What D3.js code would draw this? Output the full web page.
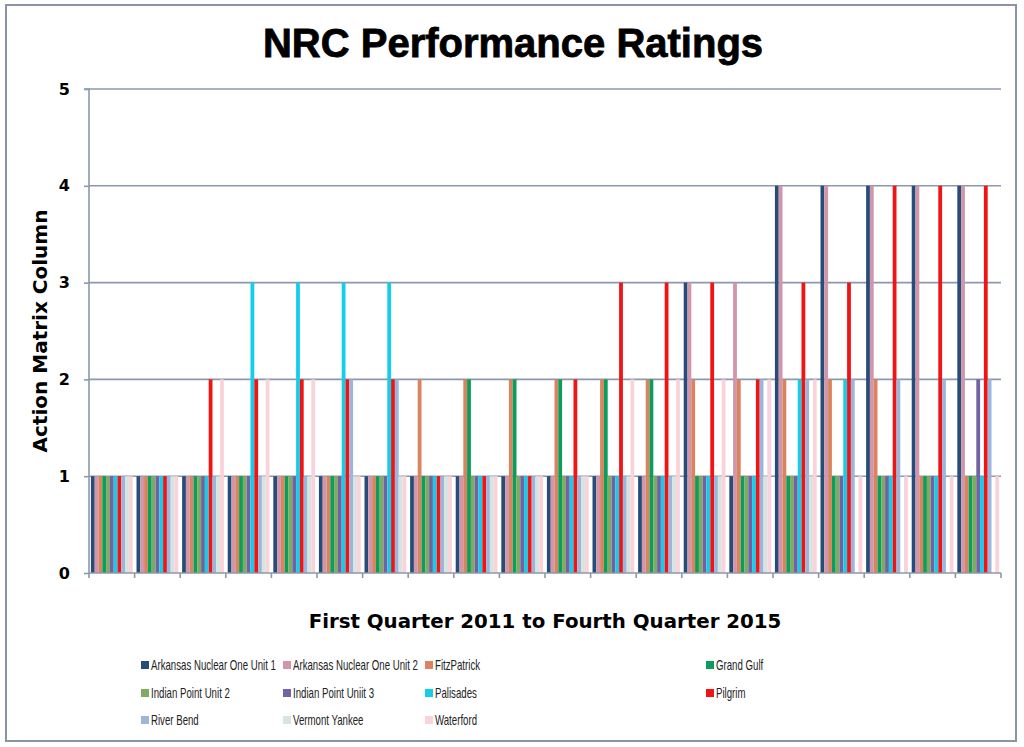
<!DOCTYPE html>
<html><head><meta charset="utf-8">
<script src="https://cdn.jsdelivr.net/npm/d3@7"></script>
<style>body{margin:0;background:#fff}</style>
</head><body>
<svg id="c" width="1024" height="747"></svg>
<script>
const quarters = ["Q1 2011","Q2 2011","Q3 2011","Q4 2011","Q1 2012","Q2 2012","Q3 2012","Q4 2012","Q1 2013","Q2 2013","Q3 2013","Q4 2013","Q1 2014","Q2 2014","Q3 2014","Q4 2014","Q1 2015","Q2 2015","Q3 2015","Q4 2015"];
const seriesNames = ["Arkansas Nuclear One Unit 1","Arkansas Nuclear One Unit 2","FitzPatrick","Grand Gulf","Indian Point Unit 2","Indian Point Uniit 3","Palisades","Pilgrim","River Bend","Vermont Yankee","Waterford"];
const ano1       = [1,1,1,1,1,1,1,1,1,1,1,1,1,3,1,4,4,4,4,4];
const ano2       = [1,1,1,1,1,1,1,1,1,1,1,1,1,3,3,4,4,4,4,4];
const fitzpatrick= [1,1,1,1,1,1,1,2,2,2,2,2,2,2,2,2,2,2,1,1];
const grandGulf  = [1,1,1,1,1,1,1,1,2,2,2,2,2,1,1,1,1,1,1,1];
const ip2        = [1,1,1,1,1,1,1,1,1,1,1,1,1,1,1,1,1,1,1,1];
const ip3        = [1,1,1,1,1,1,1,1,1,1,1,1,1,1,1,1,1,1,1,2];
const palisades  = [1,1,1,3,3,3,3,1,1,1,1,1,1,1,1,2,2,1,1,1];
const pilgrim    = [1,1,2,2,2,2,2,1,1,1,2,3,3,3,2,3,3,4,4,4];
const riverBend  = [1,1,1,1,1,2,2,1,1,1,1,1,1,1,2,2,2,2,2,2];
const vermontYankee=[1,1,1,1,1,1,1,1,1,1,1,1,1,1,1,1,0,0,0,0];
const waterford  = [1,1,2,2,2,1,1,1,1,1,1,2,2,2,2,2,1,1,1,1];
const yTicks = [0,1,2,3,4,5];
const colors = ["#264d7a","#d296ab","#d9845e","#0a9d5b","#7faa62","#7262a3","#14cde9","#f01414","#9ab6dd","#d8e4df","#f9d3d9"];

const allValues = [ano1,ano2,fitzpatrick,grandGulf,ip2,ip3,palisades,pilgrim,riverBend,vermontYankee,waterford];
const svg = d3.select("#c");
const L=89, R=1001, T=89, B=573;
const gridColor = "#8c98ad";

svg.append("rect").attr("x",6).attr("y",5).attr("width",1010).attr("height",736)
  .attr("fill","none").attr("stroke","#8a94a6").attr("stroke-width",2);

const x0 = d3.scaleBand().domain(quarters).range([L,R]).padding(0);
const bw = x0.bandwidth();
const pad = bw*0.042;
const x1 = d3.scaleBand().domain(seriesNames).range([pad,bw-pad]).padding(0);
const y = d3.scaleLinear().domain([0,5]).range([B,T]);

svg.append("g").selectAll("line").data(yTicks.filter(d=>d>0)).join("line")
  .attr("x1",L).attr("x2",R).attr("y1",d=>y(d)).attr("y2",d=>y(d))
  .attr("stroke",gridColor).attr("stroke-width",1.6);

const rows = [];
quarters.forEach((q,qi)=>seriesNames.forEach((s,si)=>rows.push({q,s,si,v:allValues[si][qi]})));
svg.append("g").selectAll("rect").data(rows.filter(d=>d.v>0)).join("rect")
  .attr("x",d=>x0(d.q)+x1(d.s)).attr("width",x1.bandwidth())
  .attr("y",d=>y(d.v)).attr("height",d=>B-y(d.v))
  .attr("fill",d=>colors[d.si]);

const ya = svg.append("g").attr("transform",`translate(${L},0)`)
  .call(d3.axisLeft(y).tickValues(yTicks).tickSize(5).tickPadding(14).tickFormat(d3.format("d")));
ya.select(".domain").attr("stroke",gridColor).attr("stroke-width",1.6).attr("d",`M-5,${T}H0V${B}`);
ya.selectAll(".tick line").attr("stroke",gridColor).attr("stroke-width",1.6);
ya.selectAll(".tick text").attr("font-family","DejaVu Sans").attr("font-weight","bold").attr("font-size",16).attr("fill","#000");

const xa = svg.append("g").attr("transform",`translate(0,${B})`);
xa.append("line").attr("x1",L).attr("x2",R).attr("stroke",gridColor).attr("stroke-width",1.6);
const bounds = quarters.map(q=>x0(q)).concat([x0(quarters[quarters.length-1])+bw]);
xa.selectAll(".t").data(bounds).join("line").attr("class","t")
  .attr("x1",d=>d).attr("x2",d=>d).attr("y1",0).attr("y2",5)
  .attr("stroke",gridColor).attr("stroke-width",1.6);

svg.append("text").attr("x",513).attr("y",57).attr("text-anchor","middle")
  .attr("font-family","Liberation Sans").attr("font-weight","bold").attr("font-size",40)
  .attr("stroke","#000").attr("stroke-width",0.8)
  .text("NRC Performance Ratings");
svg.append("text").attr("transform","translate(47,331) rotate(-90)").attr("text-anchor","middle")
  .attr("font-family","DejaVu Sans").attr("font-weight","bold").attr("font-size",20)
  .text("Action Matrix Column");
svg.append("text").attr("x",545).attr("y",628).attr("text-anchor","middle")
  .attr("font-family","DejaVu Sans").attr("font-weight","bold").attr("font-size",19.8)
  .text("First Quarter 2011 to Fourth Quarter 2015");

const colX = [141,283,425,706];
const rowY = [665,693,720];
const lg = svg.append("g");
seriesNames.forEach((s,i)=>{
  const cx = colX[i%4], cy = rowY[Math.floor(i/4)];
  const g = lg.append("g").attr("transform",`translate(${cx},${cy})`);
  g.append("rect").attr("x",0).attr("y",-4).attr("width",8).attr("height",8).attr("fill",colors[i]);
  g.append("text").attr("transform","translate(10,5) scale(0.69,1)")
    .attr("font-family","Liberation Sans").attr("font-size",14).attr("fill","#222").text(s);
});
</script>
</body></html>
